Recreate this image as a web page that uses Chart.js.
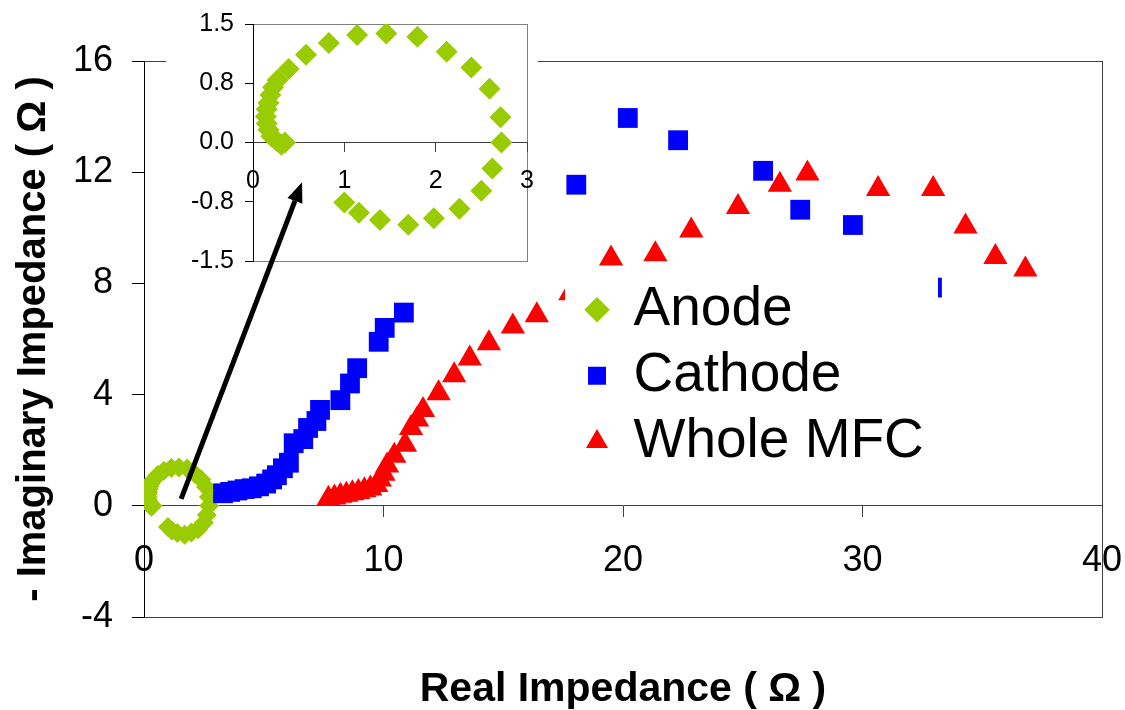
<!DOCTYPE html>
<html>
<head>
<meta charset="utf-8">
<script src="https://cdn.jsdelivr.net/npm/chart.js@4.4.1/dist/chart.umd.min.js"></script>
<style>
  html, body { margin: 0; padding: 0; background: #fff; }
  #wrap { position: relative; width: 1125px; height: 710px; }
  #main { position: absolute; left: 0; top: 0; width: 1125px; height: 710px; }
  #inset { position: absolute; left: 166px; top: 0; width: 372px; height: 276px; background: #fff; }
</style>
</head>
<body>
<div id="wrap">
  <div id="main"><canvas id="mainChart"></canvas></div>
  <div id="inset"><canvas id="insetChart"></canvas></div>
</div>
<script>
// ---------------- DATA ----------------
const seriesNames = ["Anode", "Cathode", "Whole MFC"];

const anodeX = [0.35, 0.31, 0.26, 0.20, 0.17, 0.15, 0.14, 0.15, 0.17, 0.19, 0.22, 0.27, 0.39, 0.58, 0.83,
                1.14, 1.46, 1.80, 2.12, 2.39, 2.59, 2.71, 2.72, 2.62, 2.50, 2.26, 1.98, 1.70, 1.39, 1.16, 1.00];
const anodeY = [0.00, -0.03, 0.02, 0.08, 0.16, 0.24, 0.33, 0.42, 0.50, 0.60, 0.70, 0.79, 0.93, 1.11, 1.26,
                1.36, 1.38, 1.34, 1.15, 0.95, 0.68, 0.32, 0.00, -0.33, -0.61, -0.84, -0.96, -1.04, -0.98, -0.89, -0.76];

const cathodeX = [3.3, 3.6, 3.9, 4.2, 4.5, 4.8, 5.1, 5.35, 5.55, 5.8, 6.05, 6.25, 6.65, 6.85, 7.2, 7.35,
                  8.2, 8.6, 8.9, 9.8, 10.05, 10.85, 18.05, 20.2, 22.3, 25.85, 27.4, 29.6, 32.9];
const cathodeY = [0.45, 0.5, 0.55, 0.6, 0.63, 0.7, 0.8, 0.95, 1.1, 1.35, 1.55, 2.25, 2.4, 2.8, 3.05, 3.45,
                  3.8, 4.4, 4.95, 5.9, 6.4, 6.95, 11.55, 13.95, 13.15, 12.05, 10.65, 10.1, 7.85];

const wholeX = [7.7, 7.95, 8.2, 8.45, 8.7, 8.95, 9.2, 9.45, 9.7, 9.85, 10.0, 10.15, 10.45, 10.9, 11.15, 11.4,
                11.65, 12.3, 12.95, 13.6, 14.4, 15.4, 16.4, 17.8, 19.5, 21.35, 22.85, 24.8, 26.55, 27.7,
                30.65, 32.95, 34.3, 35.55, 36.8];
const wholeY = [0.25, 0.3, 0.36, 0.4, 0.45, 0.5, 0.56, 0.62, 0.75, 0.95, 1.15, 1.45, 1.8, 2.2, 2.8, 3.1,
                3.45, 4.05, 4.7, 5.3, 5.85, 6.45, 6.85, 7.65, 8.9, 9.05, 9.9, 10.75, 11.55, 11.95,
                11.4, 11.4, 10.05, 8.95, 8.5];

const xTicks = [0, 10, 20, 30, 40];
const yTicks = [-4, 0, 4, 8, 12, 16];
const insetXTicks = [0, 1, 2, 3];
const insetYTicks = [-1.5, -0.75, 0, 0.75, 1.5];

// arrow annotation, in main-chart data units (tail on the anode ring, head inside the inset)
const arrowFrom = [1.55, 0.25];
const arrowTo = [6.6, 11.64];

// ---------------- HELPERS ----------------
const FONT = '"Liberation Sans", Arial, Helvetica, sans-serif';
const pts = (xs, ys) => xs.map((x, i) => ({ x: x, y: ys[i] }));
const fixTicks = list => scale => { scale.ticks = list.map(v => ({ value: v })); };
// keep label overhang from eating into the plot area
const noPad = (size, key) => s => {
    s.paddingLeft = s.paddingRight = s.paddingTop = s.paddingBottom = 0;
    if (key) s[key] = size;
};

Chart.defaults.font.family = FONT;
Chart.defaults.color = "#000";

// plot-area frame (drawn first, axes paint over it)
const frame = color => ({
    id: "frame",
    beforeDraw(chart) {
        const { ctx, chartArea: a } = chart;
        ctx.save();
        ctx.strokeStyle = color;
        ctx.lineWidth = 1;
        ctx.strokeRect(Math.round(a.left) + 0.5, Math.round(a.top) + 0.5,
                       Math.round(a.right - a.left), Math.round(a.bottom - a.top));
        ctx.restore();
    }
});

function drawArrow(ctx, main, ox, oy) {
    const sx = main.scales.x, sy = main.scales.y;
    const x0 = sx.getPixelForValue(arrowFrom[0]) - ox, y0 = sy.getPixelForValue(arrowFrom[1]) - oy;
    const x1 = sx.getPixelForValue(arrowTo[0]) - ox, y1 = sy.getPixelForValue(arrowTo[1]) - oy;
    const ang = Math.atan2(y1 - y0, x1 - x0);
    const head = 20, half = 8;
    const bx = x1 - head * Math.cos(ang), by = y1 - head * Math.sin(ang);
    ctx.save();
    ctx.strokeStyle = "#000";
    ctx.fillStyle = "#000";
    ctx.lineWidth = 5;
    ctx.beginPath();
    ctx.moveTo(x0, y0);
    ctx.lineTo(bx, by);
    ctx.stroke();
    ctx.beginPath();
    ctx.moveTo(x1, y1);
    ctx.lineTo(bx + half * Math.sin(ang), by - half * Math.cos(ang));
    ctx.lineTo(bx - half * Math.sin(ang), by + half * Math.cos(ang));
    ctx.closePath();
    ctx.fill();
    ctx.restore();
}

// legend sits inside the plot on a white box, over the points
const legendBox = {
    id: "legendBox",
    afterLayout(chart) {
        const lg = chart.legend, a = chart.chartArea;
        lg.left = a.left + 0.452 * (a.right - a.left);
        lg.top = a.top + 0.378 * (a.bottom - a.top);
        lg.right = lg.left + lg.width;
        lg.bottom = lg.top + lg.height;
    },
    afterDatasetsDraw(chart) {
        const lg = chart.legend, ctx = chart.ctx;
        ctx.save();
        ctx.fillStyle = "#fff";
        ctx.fillRect(lg.left - 12, lg.top - 4, 373, 219);
        ctx.restore();
        lg.draw();
    },
    afterDraw(chart) {
        drawArrow(chart.ctx, chart, 0, 0);
    }
};

// ---------------- MAIN CHART ----------------
const mainChart = new Chart(document.getElementById("mainChart"), {
    type: "scatter",
    data: {
        datasets: [
            {
                label: seriesNames[0],
                data: pts(anodeX, anodeY),
                pointStyle: "rectRot",
                pointRadius: 10,
                pointBackgroundColor: "#99cc00",
                pointBorderWidth: 0,
                order: 3
            },
            {
                label: seriesNames[1],
                data: pts(cathodeX, cathodeY),
                pointStyle: "rect",
                pointRadius: 14,
                pointBackgroundColor: "#0000ff",
                pointBorderWidth: 0,
                order: 2
            },
            {
                label: seriesNames[2],
                data: pts(wholeX, wholeY),
                pointStyle: "triangle",
                pointRadius: 14,
                pointBackgroundColor: "#ff0000",
                pointBorderWidth: 0,
                order: 1
            }
        ]
    },
    options: {
        responsive: true,
        maintainAspectRatio: false,
        animation: false,
        events: [],
        layout: { padding: { top: 61, right: 23, bottom: 0, left: 0 } },
        scales: {
            x: {
                type: "linear",
                min: 0,
                max: 40,
                position: { y: 0 },          // axis crosses at zero like Excel
                afterBuildTicks: fixTicks(xTicks),
                afterFit: noPad(0, "height"),
                grid: { drawOnChartArea: false, tickLength: 11, color: "#404040" },
                border: { color: "#404040" },
                ticks: { font: { size: 36 }, padding: 23, maxRotation: 0, autoSkip: false }
            },
            xTitle: {
                type: "linear",
                position: "bottom",
                min: 0,
                max: 40,
                afterFit: noPad(93, "height"),
                ticks: { display: false },
                grid: { display: false },
                border: { display: false },
                title: {
                    display: true,
                    text: "Real Impedance ( Ω )",
                    font: { size: 41, weight: "bold" },
                    padding: { top: 0, bottom: -4 }
                }
            },
            y: {
                type: "linear",
                min: -4,
                max: 16,
                afterBuildTicks: fixTicks(yTicks),
                afterFit: noPad(144, "width"),
                grid: { drawOnChartArea: false, tickLength: 12, color: "#000" },
                border: { color: "#000" },
                ticks: { font: { size: 36 }, padding: 19 },
                title: {
                    display: true,
                    text: "- Imaginary Impedance ( Ω )",
                    font: { size: 40, weight: "bold" },
                    padding: { top: 10, bottom: 0 }
                }
            }
        },
        plugins: {
            tooltip: { enabled: false },
            legend: {
                position: "chartArea",
                align: "start",
                labels: {
                    usePointStyle: true,
                    boxWidth: 18,
                    boxHeight: 18,
                    padding: 11,
                    color: "#000",
                    font: { size: 55 },
                    sort: (a, b) => a.datasetIndex - b.datasetIndex
                }
            }
        }
    },
    plugins: [frame("#404040"), legendBox]
});

// ---------------- INSET (anode close-up) ----------------
const insetEl = document.getElementById("inset");

new Chart(document.getElementById("insetChart"), {
    type: "scatter",
    data: {
        datasets: [{
            label: seriesNames[0],
            data: pts(anodeX, anodeY),
            pointStyle: "rectRot",
            pointRadius: 11,
            pointBackgroundColor: "#99cc00",
            pointBorderWidth: 0
        }]
    },
    options: {
        responsive: true,
        maintainAspectRatio: false,
        animation: false,
        events: [],
        layout: { padding: { top: 24, right: 10, bottom: 15, left: 0 } },
        scales: {
            x: {
                type: "linear",
                min: 0,
                max: 3,
                position: { y: 0 },
                afterBuildTicks: fixTicks(insetXTicks),
                afterFit: noPad(0, "height"),
                grid: { drawOnChartArea: false, tickLength: 9, color: "#404040" },
                border: { color: "#404040" },
                ticks: { font: { size: 25 }, padding: 15, maxRotation: 0, autoSkip: false }
            },
            y: {
                type: "linear",
                min: -1.5,
                max: 1.5,
                afterBuildTicks: fixTicks(insetYTicks),
                afterFit: noPad(87, "width"),
                grid: { drawOnChartArea: false, tickLength: 8, color: "#000" },
                border: { color: "#000" },
                ticks: { font: { size: 25 }, padding: 11, callback: v => v.toFixed(1) }
            }
        },
        plugins: {
            tooltip: { enabled: false },
            legend: { display: false }
        }
    },
    plugins: [frame("#808080"), {
        id: "insetArrow",
        afterDraw(chart) {
            drawArrow(chart.ctx, mainChart, insetEl.offsetLeft, insetEl.offsetTop);
        }
    }]
});
</script>
</body>
</html>
